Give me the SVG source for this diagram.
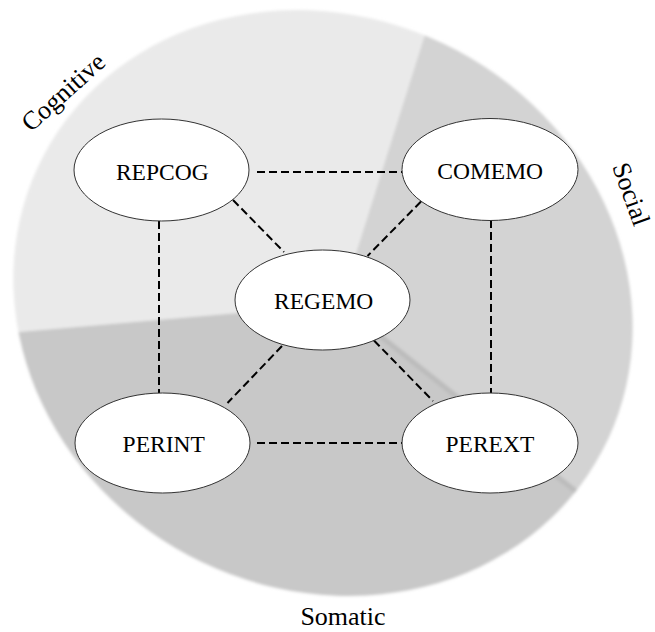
<svg xmlns="http://www.w3.org/2000/svg" width="655" height="632" viewBox="0 0 655 632">
<style>
.node ellipse{fill:#fff;stroke:#333;stroke-width:1}
.node text{font-family:"Liberation Serif","Times New Roman",serif;font-size:23.5px;fill:#000;text-anchor:middle}
.lbl{font-family:"Liberation Serif","Times New Roman",serif;font-size:26px;fill:#000;text-anchor:middle}
#connectors line{stroke:#000;stroke-width:2;stroke-dasharray:8 4;fill:none}
</style>
<defs>
<clipPath id="pieClip">
<ellipse cx="323" cy="303" rx="316" ry="286" transform="rotate(28 323 303)"/>
</clipPath>
<filter id="soft" x="-5%" y="-5%" width="110%" height="110%">
<feGaussianBlur stdDeviation="1.6"/>
</filter>
</defs>
<g id="pie" filter="url(#soft)">
<g clip-path="url(#pieClip)">
<polygon id="cognitive-sector" points="340,304 -656,391 -700,-700 640.6,-649.8" fill="#eaeaea"/>
<polygon id="social-sector" points="340,304 640.6,-649.8 1200,-700 1200,925.5 1123.5,925.5" fill="#d3d3d3"/>
<polygon id="somatic-sector" points="340,304 1123.5,925.5 1123.5,1300 -700,1300 -656,391" fill="#c8c8c8"/>
<line x1="340" y1="304" x2="700" y2="590" stroke="#bcbcbc" stroke-width="5"/>
</g>
</g>
<g id="connectors">
<line x1="257" y1="172" x2="402" y2="172"/>
<line x1="257" y1="443" x2="402" y2="443"/>
<line x1="159" y1="221" x2="159" y2="393"/>
<line x1="491" y1="220" x2="491" y2="393"/>
<line x1="233" y1="200" x2="284" y2="252"/>
<line x1="421" y1="201.5" x2="367.5" y2="256"/>
<line x1="282" y1="346" x2="227.5" y2="403"/>
<line x1="374" y1="340.5" x2="433" y2="401"/>
</g>
<g id="REPCOG" class="node"><ellipse cx="161.5" cy="170" rx="87.5" ry="51"/><text x="162.3" y="179.8">REPCOG</text></g>
<g id="COMEMO" class="node"><ellipse cx="490" cy="169.5" rx="88" ry="51"/><text x="490.2" y="179.3">COMEMO</text></g>
<g id="REGEMO" class="node"><ellipse cx="322.5" cy="300" rx="87.5" ry="50"/><text x="323.7" y="309.3">REGEMO</text></g>
<g id="PERINT" class="node"><ellipse cx="162.5" cy="443" rx="87.5" ry="50"/><text x="163.7" y="451.8">PERINT</text></g>
<g id="PEREXT" class="node"><ellipse cx="490" cy="443" rx="88" ry="50"/><text x="489.9" y="451.8">PEREXT</text></g>
<g id="labels">
<text class="lbl" transform="translate(69,98.5) rotate(-42)">Cognitive</text>
<text class="lbl" transform="translate(623,197) rotate(70)">Social</text>
<text class="lbl" x="343" y="625">Somatic</text>
</g>
</svg>
